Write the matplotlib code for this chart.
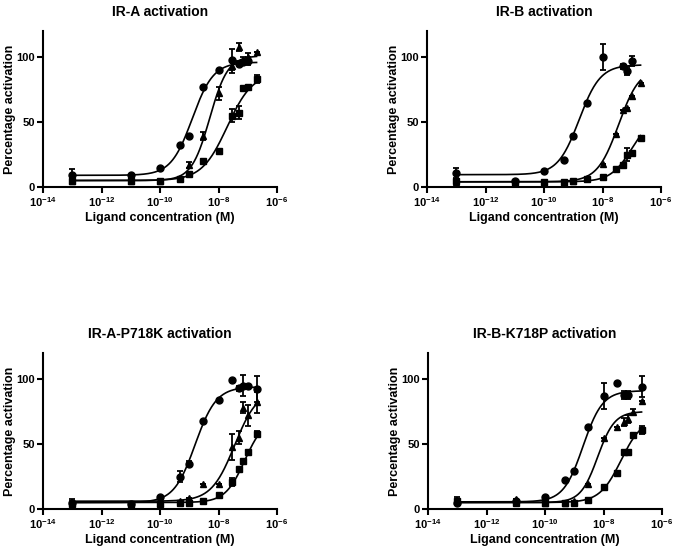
import matplotlib
matplotlib.use("Agg")
import matplotlib.pyplot as plt
from matplotlib.ticker import LogFormatterMathtext, NullLocator
import numpy as np

plt.rcParams['font.family'] = ['Liberation Sans', 'DejaVu Sans']
plt.rcParams['font.weight'] = 'bold'
plt.rcParams['mathtext.fontset'] = 'custom'
plt.rcParams['mathtext.rm'] = 'Liberation Sans:bold'
plt.rcParams['mathtext.it'] = 'Liberation Sans:bold'
plt.rcParams['mathtext.bf'] = 'Liberation Sans:bold'
plt.rcParams['mathtext.default'] = 'bf'

nan = np.nan
doses = [1e-13, 1e-11, 1e-10, 5e-10, 1e-9, 3e-9, 1e-8, 3e-8, 5e-8, 7e-8, 1e-7, 2e-7]
xticks = [1e-14, 1e-12, 1e-10, 1e-8, 1e-6]
titles = ['IR-A activation', 'IR-B activation',
          'IR-A-P718K activation', 'IR-B-K718P activation']

# mean values (circle / triangle / square) per panel
circ_A = [9, 9, 15, 32, 39, 77, 90, 98, 95, 96, 97, nan]
circ_A_err = [5, 0, 0, 0, 0, 0, 0, 8, 2, 2, 3, 0]
tri_A = [5, 5, 5, 7, 17, 39, 72, 93, 108, 97, 100, 104]
tri_A_err = [0, 0, 0, 0, 2, 3, 5, 5, 3, 3, 3, 0]
sq_A = [5, 5, 5, 6, 10, 20, 28, 55, 57, 76, 77, 83]
sq_A_err = [2, 2, 0, 0, 0, 0, 0, 5, 5, 0, 0, 3]

circ_B = [11, 5, 12.6, 21, 39, 65, 100, nan, 93, 89, 97, nan]
circ_B_err = [4, 0, 0, 0, 0, 0, 10, 0, 2, 3, 4, 0]
tri_B = [4, 4, 4, 4, 5, 7, 18, 41, 59, 61, 70, 80]
tri_B_err = [0] * 12
sq_B = [5, 4, 4, 4, 5, 6, 8, 14, 17, 25, 26, 38]
sq_B_err = [0, 0, 0, 0, 0, 0, 0, 0, 0, 5, 0, 0]

circ_AK = [5, 4, 9.5, 25, 35, 68, 84, 99, 93, 95, 95, 92]
circ_AK_err = [3, 0, 0, 4, 2, 0, 0, 0, 2, 8, 0, 10]
tri_AK = [5, 4, 5, 6, 8.6, 19.4, 19.4, 48, 55, 78, 72, 82]
tri_AK_err = [0, 0, 0, 0, 0, 0, 0, 10, 5, 4, 8, 8]
sq_AK = [4, 4, 4, 5, 5, 6.5, 10.8, 21, 31, 37, 44, 58]
sq_AK_err = [2, 0, 0, 0, 0, 0, 0, 3, 0, 0, 0, 2]

circ_BP = [5, 6, 9.5, 22, 29, 63, 87, 97, 88, 88, nan, 94]
circ_BP_err = [2, 0, 0, 0, 0, 0, 10, 0, 3, 3, 0, 8]
tri_BP = [6, 8, 5, 5, 6, 19.4, 54.5, 63, 67, 69, 75, 83]
tri_BP_err = [0, 0, 0, 0, 0, 0, 0, 0, 3, 3, 2, 0]
sq_BP = [6, 5, 5, 4.6, 5, 6.7, 17, 28, 44, 44, 57, 61]
sq_BP_err = [3, 0, 0, 0, 0, 0, 0, 0, 0, 0, 0, 3]

# fitted 4-parameter logistic curves: (bottom, top, logEC50, hill)
fit_A = [(9, 96, -8.9, 1.2), (5, 101, -8.3, 1.4), (5, 88, -7.7, 1.0)]
fit_B = [(9.5, 94, -8.8, 1.2), (4, 92, -7.45, 1.2), (4, 55, -7.0, 1.2)]
fit_AK = [(5, 94, -8.8, 1.2), (6, 92, -7.45, 1.1), (5, 70, -7.1, 1.3)]
fit_BP = [(5.5, 91, -8.7, 1.3), (5, 75, -8.2, 1.5), (5, 70, -7.4, 1.2)]

panels = [
    ([(circ_A, circ_A_err), (tri_A, tri_A_err), (sq_A, sq_A_err)], fit_A),
    ([(circ_B, circ_B_err), (tri_B, tri_B_err), (sq_B, sq_B_err)], fit_B),
    ([(circ_AK, circ_AK_err), (tri_AK, tri_AK_err), (sq_AK, sq_AK_err)], fit_AK),
    ([(circ_BP, circ_BP_err), (tri_BP, tri_BP_err), (sq_BP, sq_BP_err)], fit_BP),
]
markers = ['o', '^', 's']

W, H = 673, 548
fig = plt.figure(figsize=(W / 100, H / 100), dpi=100)
boxes = [(43, 31, 234, 156), (427, 31, 234, 156),
         (43, 353, 234, 156), (428, 353, 234, 156)]

xs = np.logspace(-13, np.log10(2e-7), 300)

for i, (series, fits) in enumerate(panels):
    x0, y0, w, h = boxes[i]
    ax = fig.add_axes([x0 / W, 1 - (y0 + h) / H, w / W, h / H])
    for (vals, errs), m, (bot, top, ec, hill) in zip(series, markers, fits):
        curve = bot + (top - bot) / (1 + 10 ** (hill * (ec - np.log10(xs))))
        ax.plot(xs, curve, color='black', lw=1.2)
        ax.errorbar(doses, vals, yerr=errs, fmt=m, color='black', ms=5,
                    capsize=2.5, elinewidth=1.3, capthick=1.3)
    ax.set_xscale('log')
    ax.set_xlim(1e-14, 1e-6)
    ax.set_ylim(0, 120)
    ax.set_xticks(xticks)
    ax.xaxis.set_major_formatter(LogFormatterMathtext())
    ax.xaxis.set_minor_locator(NullLocator())
    ax.set_yticks([0, 50, 100])
    for s in ['top', 'right']:
        ax.spines[s].set_visible(False)
    for s in ['left', 'bottom']:
        ax.spines[s].set_linewidth(1.5)
    ax.tick_params(direction='out', length=4, width=1.5, labelsize=8, pad=2)
    ax.set_title(titles[i], fontsize=10, fontweight='bold', pad=11)
    ax.set_xlabel('Ligand concentration (M)', fontsize=9, fontweight='bold', labelpad=2)
    ax.set_ylabel('Percentage activation', fontsize=9, fontweight='bold')
    ax.yaxis.set_label_coords(-0.115, 0.5)

fig.savefig('out.png', dpi=100)
